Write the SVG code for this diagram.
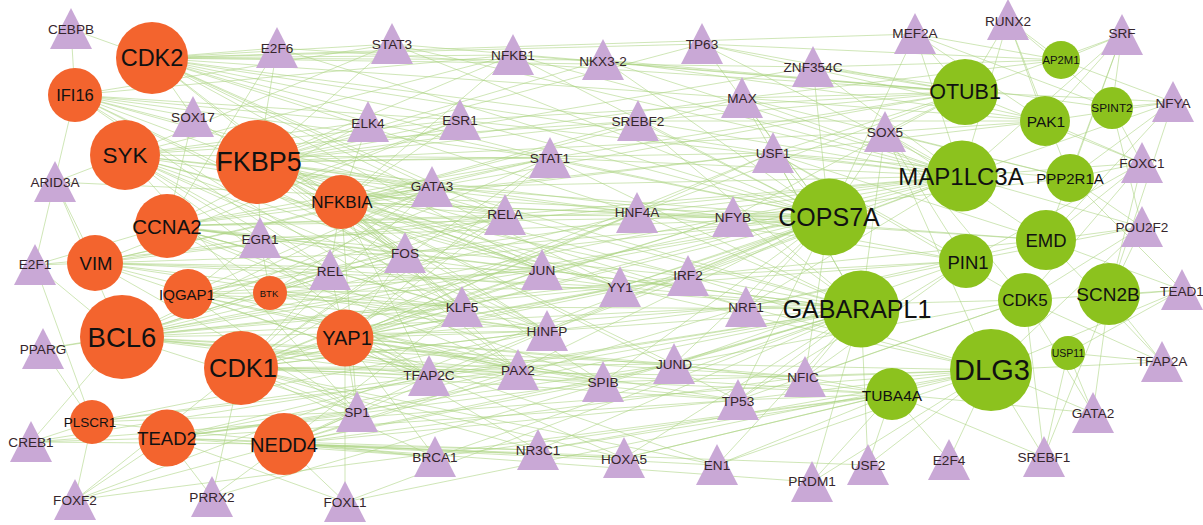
<svg xmlns="http://www.w3.org/2000/svg" xmlns:xlink="http://www.w3.org/1999/xlink" width="1203" height="525" viewBox="0 0 1203 525">
<style>
.e path{stroke:#acd482;stroke-width:0.8;stroke-opacity:0.72;fill:none}
.o{fill:#f3642e}
.g{fill:#8cc21e}
text{font-family:"Liberation Sans",Arial,sans-serif;text-anchor:middle;dominant-baseline:central}
.lt{font-size:13.6px;fill:#35252c}
.lc{fill:#111}
</style>
<defs>
<polygon id="tri" points="0,-21 -21,20 21,20" fill="#c9a8d6"/>
</defs>
<rect width="1203" height="525" fill="#fff"/>
<g id="connectors" class="e">
<!-- CDK2 -->
<path d="M152 58L71 29"/><path d="M152 58L277 48"/><path d="M152 58L392 44"/><path d="M152 58L513 55"/><path d="M152 58L603 60"/><path d="M152 58L702 44"/><path d="M152 58L460 120"/><path d="M152 58L550 158"/><path d="M152 58L638 121"/><path d="M152 58L432 187"/><path d="M152 58L505 215"/><path d="M152 58L637 213"/><path d="M152 58L542 270"/><path d="M152 58L620 287"/><path d="M152 58L368 122"/><path d="M152 58L742 98"/><path d="M152 58L773 153"/><path d="M152 58L193 117"/><path d="M152 58L405 253"/><path d="M152 58L462 307"/><path d="M152 58L915 34"/><path d="M152 58L813 67"/>
<!-- IFI16 -->
<path d="M75 95L71 29"/><path d="M75 95L392 44"/><path d="M75 95L368 122"/><path d="M75 95L460 120"/><path d="M75 95L432 187"/><path d="M75 95L505 215"/><path d="M75 95L542 270"/><path d="M75 95L405 253"/><path d="M75 95L330 270"/><path d="M75 95L550 158"/><path d="M75 95L547 331"/><path d="M75 95L35 265"/><path d="M75 95L193 117"/><path d="M75 95L518 370"/><path d="M75 95L513 55"/>
<!-- SYK -->
<path d="M125 155L392 44"/><path d="M125 155L368 122"/><path d="M125 155L460 120"/><path d="M125 155L550 158"/><path d="M125 155L432 187"/><path d="M125 155L505 215"/><path d="M125 155L405 253"/><path d="M125 155L330 270"/><path d="M125 155L542 270"/><path d="M125 155L462 307"/><path d="M125 155L547 331"/><path d="M125 155L429 376"/><path d="M125 155L357 412"/><path d="M125 155L260 238"/><path d="M125 155L513 55"/><path d="M125 155L638 121"/><path d="M125 155L55 182"/><path d="M125 155L637 213"/><path d="M125 155L620 287"/>
<!-- FKBP5 -->
<path d="M258 162L392 44"/><path d="M258 162L513 55"/><path d="M258 162L603 60"/><path d="M258 162L460 120"/><path d="M258 162L550 158"/><path d="M258 162L638 121"/><path d="M258 162L742 98"/><path d="M258 162L773 153"/><path d="M258 162L432 187"/><path d="M258 162L505 215"/><path d="M258 162L637 213"/><path d="M258 162L733 217"/><path d="M258 162L542 270"/><path d="M258 162L620 287"/><path d="M258 162L688 276"/><path d="M258 162L462 307"/><path d="M258 162L746 307"/><path d="M258 162L547 331"/><path d="M258 162L518 370"/><path d="M258 162L603 382"/><path d="M258 162L674 364"/><path d="M258 162L738 400"/><path d="M258 162L405 253"/><path d="M258 162L260 238"/><path d="M258 162L193 117"/><path d="M258 162L368 122"/><path d="M258 162L277 48"/><path d="M258 162L702 44"/><path d="M258 162L813 67"/><path d="M258 162L885 132"/>
<!-- NFKBIA -->
<path d="M341 202L460 120"/><path d="M341 202L550 158"/><path d="M341 202L638 121"/><path d="M341 202L432 187"/><path d="M341 202L505 215"/><path d="M341 202L637 213"/><path d="M341 202L733 217"/><path d="M341 202L542 270"/><path d="M341 202L620 287"/><path d="M341 202L330 270"/><path d="M341 202L405 253"/><path d="M341 202L462 307"/><path d="M341 202L547 331"/><path d="M341 202L429 376"/><path d="M341 202L518 370"/><path d="M341 202L357 412"/><path d="M341 202L513 55"/><path d="M341 202L742 98"/><path d="M341 202L368 122"/><path d="M341 202L688 276"/><path d="M341 202L746 307"/><path d="M341 202L773 153"/>
<!-- CCNA2 -->
<path d="M167 226L193 117"/><path d="M167 226L277 48"/><path d="M167 226L368 122"/><path d="M167 226L460 120"/><path d="M167 226L432 187"/><path d="M167 226L505 215"/><path d="M167 226L542 270"/><path d="M167 226L620 287"/><path d="M167 226L405 253"/><path d="M167 226L330 270"/><path d="M167 226L462 307"/><path d="M167 226L547 331"/><path d="M167 226L518 370"/><path d="M167 226L603 382"/><path d="M167 226L429 376"/><path d="M167 226L773 153"/><path d="M167 226L733 217"/><path d="M167 226L550 158"/><path d="M167 226L35 265"/><path d="M167 226L260 238"/><path d="M167 226L637 213"/><path d="M167 226L688 276"/>
<!-- VIM -->
<path d="M95 263L35 265"/><path d="M95 263L55 182"/><path d="M95 263L260 238"/><path d="M95 263L330 270"/><path d="M95 263L405 253"/><path d="M95 263L505 215"/><path d="M95 263L542 270"/><path d="M95 263L462 307"/><path d="M95 263L547 331"/><path d="M95 263L432 187"/><path d="M95 263L550 158"/><path d="M95 263L460 120"/><path d="M95 263L429 376"/><path d="M95 263L518 370"/><path d="M95 263L620 287"/><path d="M95 263L357 412"/>
<!-- IQGAP1 -->
<path d="M188 294L260 238"/><path d="M188 294L330 270"/><path d="M188 294L405 253"/><path d="M188 294L542 270"/><path d="M188 294L462 307"/><path d="M188 294L429 376"/><path d="M188 294L518 370"/><path d="M188 294L603 382"/><path d="M188 294L620 287"/><path d="M188 294L547 331"/><path d="M188 294L505 215"/><path d="M188 294L432 187"/><path d="M188 294L357 412"/>
<!-- BTK -->
<path d="M270 293L330 270"/><path d="M270 293L405 253"/><path d="M270 293L542 270"/><path d="M270 293L462 307"/><path d="M270 293L432 187"/><path d="M270 293L260 238"/><path d="M270 293L547 331"/>
<!-- BCL6 -->
<path d="M122 337L35 265"/><path d="M122 337L43 349"/><path d="M122 337L31 442"/><path d="M122 337L55 182"/><path d="M122 337L330 270"/><path d="M122 337L405 253"/><path d="M122 337L542 270"/><path d="M122 337L462 307"/><path d="M122 337L547 331"/><path d="M122 337L429 376"/><path d="M122 337L518 370"/><path d="M122 337L603 382"/><path d="M122 337L620 287"/><path d="M122 337L688 276"/><path d="M122 337L746 307"/><path d="M122 337L674 364"/><path d="M122 337L357 412"/><path d="M122 337L505 215"/><path d="M122 337L637 213"/><path d="M122 337L733 217"/><path d="M122 337L432 187"/><path d="M122 337L550 158"/><path d="M122 337L738 400"/><path d="M122 337L805 377"/>
<!-- CDK1 -->
<path d="M241 368L357 412"/><path d="M241 368L429 376"/><path d="M241 368L518 370"/><path d="M241 368L547 331"/><path d="M241 368L462 307"/><path d="M241 368L603 382"/><path d="M241 368L674 364"/><path d="M241 368L620 287"/><path d="M241 368L542 270"/><path d="M241 368L688 276"/><path d="M241 368L746 307"/><path d="M241 368L738 400"/><path d="M241 368L805 377"/><path d="M241 368L435 457"/><path d="M241 368L538 450"/><path d="M241 368L624 458"/><path d="M241 368L405 253"/><path d="M241 368L330 270"/><path d="M241 368L505 215"/><path d="M241 368L637 213"/><path d="M241 368L733 217"/><path d="M241 368L773 153"/><path d="M241 368L432 187"/><path d="M241 368L550 158"/><path d="M241 368L75 500"/><path d="M241 368L212 497"/><path d="M241 368L717 465"/>
<!-- YAP1 -->
<path d="M345 338L429 376"/><path d="M345 338L518 370"/><path d="M345 338L547 331"/><path d="M345 338L462 307"/><path d="M345 338L603 382"/><path d="M345 338L674 364"/><path d="M345 338L542 270"/><path d="M345 338L620 287"/><path d="M345 338L688 276"/><path d="M345 338L746 307"/><path d="M345 338L738 400"/><path d="M345 338L805 377"/><path d="M345 338L435 457"/><path d="M345 338L538 450"/><path d="M345 338L624 458"/><path d="M345 338L717 465"/><path d="M345 338L405 253"/><path d="M345 338L330 270"/><path d="M345 338L357 412"/><path d="M345 338L345 502"/><path d="M345 338L505 215"/><path d="M345 338L637 213"/><path d="M345 338L733 217"/><path d="M345 338L773 153"/><path d="M345 338L550 158"/>
<!-- PLSCR1 -->
<path d="M92 422L31 442"/><path d="M92 422L43 349"/><path d="M92 422L35 265"/><path d="M92 422L75 500"/><path d="M92 422L357 412"/><path d="M92 422L429 376"/><path d="M92 422L518 370"/><path d="M92 422L435 457"/><path d="M92 422L547 331"/>
<!-- TEAD2 -->
<path d="M167 438L357 412"/><path d="M167 438L429 376"/><path d="M167 438L518 370"/><path d="M167 438L435 457"/><path d="M167 438L538 450"/><path d="M167 438L624 458"/><path d="M167 438L345 502"/><path d="M167 438L212 497"/><path d="M167 438L75 500"/><path d="M167 438L31 442"/><path d="M167 438L603 382"/><path d="M167 438L674 364"/><path d="M167 438L738 400"/>
<!-- NEDD4 -->
<path d="M284 444L357 412"/><path d="M284 444L435 457"/><path d="M284 444L538 450"/><path d="M284 444L624 458"/><path d="M284 444L717 465"/><path d="M284 444L429 376"/><path d="M284 444L518 370"/><path d="M284 444L603 382"/><path d="M284 444L674 364"/><path d="M284 444L738 400"/><path d="M284 444L805 377"/><path d="M284 444L812 482"/><path d="M284 444L345 502"/><path d="M284 444L212 497"/><path d="M284 444L75 500"/><path d="M284 444L31 442"/><path d="M284 444L547 331"/><path d="M284 444L462 307"/><path d="M284 444L868 465"/><path d="M284 444L746 307"/>
<!-- COPS7A -->
<path d="M829 217L813 67"/><path d="M829 217L742 98"/><path d="M829 217L773 153"/><path d="M829 217L638 121"/><path d="M829 217L733 217"/><path d="M829 217L637 213"/><path d="M829 217L688 276"/><path d="M829 217L746 307"/><path d="M829 217L620 287"/><path d="M829 217L542 270"/><path d="M829 217L505 215"/><path d="M829 217L550 158"/><path d="M829 217L432 187"/><path d="M829 217L460 120"/><path d="M829 217L702 44"/><path d="M829 217L603 60"/><path d="M829 217L513 55"/><path d="M829 217L392 44"/><path d="M829 217L277 48"/><path d="M829 217L405 253"/><path d="M829 217L462 307"/><path d="M829 217L547 331"/><path d="M829 217L674 364"/><path d="M829 217L738 400"/><path d="M829 217L805 377"/><path d="M829 217L885 132"/><path d="M829 217L915 34"/><path d="M829 217L603 382"/><path d="M829 217L518 370"/><path d="M829 217L429 376"/><path d="M829 217L368 122"/><path d="M829 217L330 270"/><path d="M829 217L260 238"/>
<!-- OTUB1 -->
<path d="M965 92L915 34"/><path d="M965 92L1008 20"/><path d="M965 92L1122 35"/><path d="M965 92L813 67"/><path d="M965 92L885 132"/><path d="M965 92L742 98"/><path d="M965 92L773 153"/><path d="M965 92L702 44"/><path d="M965 92L638 121"/><path d="M965 92L603 60"/><path d="M965 92L513 55"/><path d="M965 92L392 44"/><path d="M965 92L733 217"/><path d="M965 92L637 213"/><path d="M965 92L550 158"/><path d="M965 92L460 120"/><path d="M965 92L432 187"/><path d="M965 92L277 48"/><path d="M965 92L1142 163"/><path d="M965 92L1173 102"/>
<!-- AP2M1 -->
<path d="M1061 60L1122 35"/><path d="M1061 60L1008 20"/><path d="M1061 60L915 34"/><path d="M1061 60L1173 102"/><path d="M1061 60L702 44"/><path d="M1061 60L742 98"/><path d="M1061 60L813 67"/>
<!-- PAK1 -->
<path d="M1045 121L1122 35"/><path d="M1045 121L1008 20"/><path d="M1045 121L915 34"/><path d="M1045 121L1173 102"/><path d="M1045 121L1142 163"/><path d="M1045 121L885 132"/><path d="M1045 121L773 153"/><path d="M1045 121L742 98"/><path d="M1045 121L702 44"/><path d="M1045 121L638 121"/><path d="M1045 121L603 60"/>
<!-- SPINT2 -->
<path d="M1112 108L1122 35"/><path d="M1112 108L1173 102"/><path d="M1112 108L1142 163"/><path d="M1112 108L1008 20"/><path d="M1112 108L1142 227"/><path d="M1112 108L915 34"/><path d="M1112 108L813 67"/>
<!-- MAP1LC3A -->
<path d="M962 176L915 34"/><path d="M962 176L813 67"/><path d="M962 176L885 132"/><path d="M962 176L742 98"/><path d="M962 176L773 153"/><path d="M962 176L638 121"/><path d="M962 176L733 217"/><path d="M962 176L637 213"/><path d="M962 176L550 158"/><path d="M962 176L460 120"/><path d="M962 176L432 187"/><path d="M962 176L505 215"/><path d="M962 176L542 270"/><path d="M962 176L620 287"/><path d="M962 176L688 276"/><path d="M962 176L746 307"/><path d="M962 176L1142 163"/><path d="M962 176L1122 35"/><path d="M962 176L1173 102"/><path d="M962 176L1142 227"/><path d="M962 176L702 44"/><path d="M962 176L603 60"/><path d="M962 176L513 55"/><path d="M962 176L392 44"/><path d="M962 176L1008 20"/><path d="M962 176L462 307"/><path d="M962 176L547 331"/><path d="M962 176L405 253"/>
<!-- PPP2R1A -->
<path d="M1070 178L1142 163"/><path d="M1070 178L1173 102"/><path d="M1070 178L1122 35"/><path d="M1070 178L1142 227"/><path d="M1070 178L885 132"/><path d="M1070 178L773 153"/><path d="M1070 178L742 98"/><path d="M1070 178L733 217"/><path d="M1070 178L1182 290"/><path d="M1070 178L1008 20"/>
<!-- EMD -->
<path d="M1046 240L1142 163"/><path d="M1046 240L1142 227"/><path d="M1046 240L1182 290"/><path d="M1046 240L1173 102"/><path d="M1046 240L1122 35"/><path d="M1046 240L885 132"/><path d="M1046 240L773 153"/><path d="M1046 240L733 217"/><path d="M1046 240L688 276"/><path d="M1046 240L746 307"/><path d="M1046 240L637 213"/><path d="M1046 240L1162 362"/>
<!-- PIN1 -->
<path d="M966 261L885 132"/><path d="M966 261L773 153"/><path d="M966 261L733 217"/><path d="M966 261L746 307"/><path d="M966 261L688 276"/><path d="M966 261L738 400"/><path d="M966 261L674 364"/><path d="M966 261L805 377"/><path d="M966 261L1142 227"/><path d="M966 261L1142 163"/><path d="M966 261L637 213"/><path d="M966 261L620 287"/>
<!-- GABARAPL1 -->
<path d="M861 309L805 377"/><path d="M861 309L738 400"/><path d="M861 309L674 364"/><path d="M861 309L746 307"/><path d="M861 309L688 276"/><path d="M861 309L620 287"/><path d="M861 309L542 270"/><path d="M861 309L603 382"/><path d="M861 309L547 331"/><path d="M861 309L518 370"/><path d="M861 309L462 307"/><path d="M861 309L429 376"/><path d="M861 309L637 213"/><path d="M861 309L505 215"/><path d="M861 309L733 217"/><path d="M861 309L773 153"/><path d="M861 309L550 158"/><path d="M861 309L717 465"/><path d="M861 309L624 458"/><path d="M861 309L538 450"/><path d="M861 309L812 482"/><path d="M861 309L868 465"/><path d="M861 309L885 132"/><path d="M861 309L742 98"/><path d="M861 309L432 187"/><path d="M861 309L405 253"/><path d="M861 309L435 457"/><path d="M861 309L638 121"/><path d="M861 309L330 270"/><path d="M861 309L357 412"/>
<!-- CDK5 -->
<path d="M1025 300L1182 290"/><path d="M1025 300L1142 227"/><path d="M1025 300L1142 163"/><path d="M1025 300L1162 362"/><path d="M1025 300L1093 413"/><path d="M1025 300L746 307"/><path d="M1025 300L805 377"/><path d="M1025 300L738 400"/><path d="M1025 300L674 364"/><path d="M1025 300L885 132"/><path d="M1025 300L773 153"/><path d="M1025 300L1044 457"/>
<!-- SCN2B -->
<path d="M1109 296L1182 290"/><path d="M1109 296L1162 362"/><path d="M1109 296L1142 227"/><path d="M1109 296L1142 163"/><path d="M1109 296L1093 413"/><path d="M1109 296L1173 102"/><path d="M1109 296L1044 457"/>
<!-- USP11 -->
<path d="M1068 353L1162 362"/><path d="M1068 353L1093 413"/><path d="M1068 353L1044 457"/><path d="M1068 353L1182 290"/>
<!-- DLG3 -->
<path d="M991 370L1093 413"/><path d="M991 370L1044 457"/><path d="M991 370L949 460"/><path d="M991 370L868 465"/><path d="M991 370L812 482"/><path d="M991 370L1162 362"/><path d="M991 370L805 377"/><path d="M991 370L738 400"/><path d="M991 370L674 364"/><path d="M991 370L746 307"/><path d="M991 370L688 276"/><path d="M991 370L717 465"/><path d="M991 370L624 458"/><path d="M991 370L603 382"/><path d="M991 370L620 287"/><path d="M991 370L538 450"/><path d="M991 370L1142 227"/><path d="M991 370L1182 290"/><path d="M991 370L885 132"/>
<!-- TUBA4A -->
<path d="M892 394L868 465"/><path d="M892 394L949 460"/><path d="M892 394L812 482"/><path d="M892 394L717 465"/><path d="M892 394L624 458"/><path d="M892 394L805 377"/><path d="M892 394L738 400"/><path d="M892 394L674 364"/><path d="M892 394L603 382"/><path d="M892 394L538 450"/><path d="M892 394L435 457"/><path d="M892 394L1093 413"/><path d="M892 394L1044 457"/><path d="M892 394L518 370"/>
<!-- long cross links -->
<path d="M31 442L861 309"/><path d="M31 442L991 370"/><path d="M75 500L829 217"/><path d="M75 500L892 394"/><path d="M43 349L829 217"/><path d="M345 502L861 309"/><path d="M345 502L991 370"/><path d="M212 497L861 309"/><path d="M35 265L962 176"/><path d="M55 182L829 217"/>
</g>
<!-- triangle nodes -->
<g id="n-CEBPB"><use href="#tri" x="71" y="29"/><text class="lt" x="71" y="29">CEBPB</text></g>
<g id="n-E2F6"><use href="#tri" x="277" y="48"/><text class="lt" x="277" y="48">E2F6</text></g>
<g id="n-STAT3"><use href="#tri" x="392" y="44"/><text class="lt" x="392" y="44">STAT3</text></g>
<g id="n-NFKB1"><use href="#tri" x="513" y="55"/><text class="lt" x="513" y="55">NFKB1</text></g>
<g id="n-NKX3-2"><use href="#tri" x="603" y="60"/><text class="lt" x="603" y="61">NKX3-2</text></g>
<g id="n-TP63"><use href="#tri" x="702" y="44"/><text class="lt" x="702" y="44">TP63</text></g>
<g id="n-ZNF354C"><use href="#tri" x="813" y="67"/><text class="lt" x="813" y="67">ZNF354C</text></g>
<g id="n-MEF2A"><use href="#tri" x="915" y="34"/><text class="lt" x="915" y="33">MEF2A</text></g>
<g id="n-RUNX2"><use href="#tri" x="1008" y="20"/><text class="lt" x="1008" y="21">RUNX2</text></g>
<g id="n-SRF"><use href="#tri" x="1122" y="35"/><text class="lt" x="1122" y="33">SRF</text></g>
<g id="n-NFYA"><use href="#tri" x="1173" y="102"/><text class="lt" x="1173" y="103">NFYA</text></g>
<g id="n-SOX5"><use href="#tri" x="885" y="132"/><text class="lt" x="885" y="132">SOX5</text></g>
<g id="n-FOXC1"><use href="#tri" x="1142" y="163"/><text class="lt" x="1142" y="163">FOXC1</text></g>
<g id="n-POU2F2"><use href="#tri" x="1142" y="227"/><text class="lt" x="1142" y="227">POU2F2</text></g>
<g id="n-TEAD1"><use href="#tri" x="1182" y="290"/><text class="lt" x="1182" y="291">TEAD1</text></g>
<g id="n-TFAP2A"><use href="#tri" x="1162" y="362"/><text class="lt" x="1162" y="361">TFAP2A</text></g>
<g id="n-GATA2"><use href="#tri" x="1093" y="413"/><text class="lt" x="1093" y="413">GATA2</text></g>
<g id="n-SREBF1"><use href="#tri" x="1044" y="457"/><text class="lt" x="1044" y="457">SREBF1</text></g>
<g id="n-E2F4"><use href="#tri" x="949" y="460"/><text class="lt" x="949" y="460">E2F4</text></g>
<g id="n-USF2"><use href="#tri" x="868" y="465"/><text class="lt" x="868" y="465">USF2</text></g>
<g id="n-PRDM1"><use href="#tri" x="812" y="482"/><text class="lt" x="812" y="481">PRDM1</text></g>
<g id="n-EN1"><use href="#tri" x="717" y="465"/><text class="lt" x="717" y="465">EN1</text></g>
<g id="n-HOXA5"><use href="#tri" x="624" y="458"/><text class="lt" x="624" y="459">HOXA5</text></g>
<g id="n-NR3C1"><use href="#tri" x="538" y="450"/><text class="lt" x="538" y="450">NR3C1</text></g>
<g id="n-BRCA1"><use href="#tri" x="435" y="457"/><text class="lt" x="435" y="457">BRCA1</text></g>
<g id="n-FOXL1"><use href="#tri" x="345" y="502"/><text class="lt" x="345" y="502">FOXL1</text></g>
<g id="n-PRRX2"><use href="#tri" x="212" y="497"/><text class="lt" x="212" y="497">PRRX2</text></g>
<g id="n-FOXF2"><use href="#tri" x="75" y="500"/><text class="lt" x="75" y="500">FOXF2</text></g>
<g id="n-CREB1"><use href="#tri" x="31" y="442"/><text class="lt" x="31" y="442">CREB1</text></g>
<g id="n-SP1"><use href="#tri" x="357" y="412"/><text class="lt" x="357" y="412">SP1</text></g>
<g id="n-PPARG"><use href="#tri" x="43" y="349"/><text class="lt" x="43" y="349">PPARG</text></g>
<g id="n-E2F1"><use href="#tri" x="35" y="265"/><text class="lt" x="35" y="264">E2F1</text></g>
<g id="n-ARID3A"><use href="#tri" x="55" y="182"/><text class="lt" x="55" y="182">ARID3A</text></g>
<g id="n-SOX17"><use href="#tri" x="193" y="117"/><text class="lt" x="193" y="117">SOX17</text></g>
<g id="n-ELK4"><use href="#tri" x="368" y="122"/><text class="lt" x="368" y="123">ELK4</text></g>
<g id="n-EGR1"><use href="#tri" x="260" y="238"/><text class="lt" x="260" y="239">EGR1</text></g>
<g id="n-REL"><use href="#tri" x="330" y="270"/><text class="lt" x="330" y="271">REL</text></g>
<g id="n-FOS"><use href="#tri" x="405" y="253"/><text class="lt" x="405" y="253">FOS</text></g>
<g id="n-GATA3"><use href="#tri" x="432" y="187"/><text class="lt" x="432" y="186">GATA3</text></g>
<g id="n-ESR1"><use href="#tri" x="460" y="120"/><text class="lt" x="460" y="120">ESR1</text></g>
<g id="n-STAT1"><use href="#tri" x="550" y="158"/><text class="lt" x="550" y="158">STAT1</text></g>
<g id="n-SREBF2"><use href="#tri" x="638" y="121"/><text class="lt" x="638" y="121">SREBF2</text></g>
<g id="n-MAX"><use href="#tri" x="742" y="98"/><text class="lt" x="742" y="98">MAX</text></g>
<g id="n-USF1"><use href="#tri" x="773" y="153"/><text class="lt" x="773" y="153">USF1</text></g>
<g id="n-RELA"><use href="#tri" x="505" y="215"/><text class="lt" x="505" y="214">RELA</text></g>
<g id="n-HNF4A"><use href="#tri" x="637" y="213"/><text class="lt" x="637" y="212">HNF4A</text></g>
<g id="n-NFYB"><use href="#tri" x="733" y="217"/><text class="lt" x="733" y="217">NFYB</text></g>
<g id="n-JUN"><use href="#tri" x="542" y="270"/><text class="lt" x="542" y="270">JUN</text></g>
<g id="n-YY1"><use href="#tri" x="620" y="287"/><text class="lt" x="620" y="287">YY1</text></g>
<g id="n-IRF2"><use href="#tri" x="688" y="276"/><text class="lt" x="688" y="275">IRF2</text></g>
<g id="n-KLF5"><use href="#tri" x="462" y="307"/><text class="lt" x="462" y="307">KLF5</text></g>
<g id="n-NRF1"><use href="#tri" x="746" y="307"/><text class="lt" x="746" y="307">NRF1</text></g>
<g id="n-HINFP"><use href="#tri" x="547" y="331"/><text class="lt" x="547" y="331">HINFP</text></g>
<g id="n-TFAP2C"><use href="#tri" x="429" y="376"/><text class="lt" x="429" y="375">TFAP2C</text></g>
<g id="n-PAX2"><use href="#tri" x="518" y="370"/><text class="lt" x="518" y="370">PAX2</text></g>
<g id="n-SPIB"><use href="#tri" x="603" y="382"/><text class="lt" x="603" y="382">SPIB</text></g>
<g id="n-JUND"><use href="#tri" x="674" y="364"/><text class="lt" x="674" y="364">JUND</text></g>
<g id="n-TP53"><use href="#tri" x="738" y="400"/><text class="lt" x="738" y="401">TP53</text></g>
<g id="n-NFIC"><use href="#tri" x="805" y="377"/><text class="lt" x="803" y="377">NFIC</text></g>
<!-- orange circle nodes -->
<g id="n-CDK2"><circle class="o" cx="152" cy="58" r="36"/><text class="lc" x="152" y="58" font-size="23.5">CDK2</text></g>
<g id="n-IFI16"><circle class="o" cx="75" cy="95" r="27"/><text class="lc" x="75" y="95" font-size="16.5">IFI16</text></g>
<g id="n-SYK"><circle class="o" cx="125" cy="155" r="35"/><text class="lc" x="125" y="155" font-size="22.5">SYK</text></g>
<g id="n-FKBP5"><circle class="o" cx="258" cy="162" r="42"/><text class="lc" x="259" y="162" font-size="27">FKBP5</text></g>
<g id="n-NFKBIA"><circle class="o" cx="341" cy="202" r="27"/><text class="lc" x="342" y="202" font-size="17">NFKBIA</text></g>
<g id="n-CCNA2"><circle class="o" cx="167" cy="226" r="32"/><text class="lc" x="167" y="226" font-size="20.5">CCNA2</text></g>
<g id="n-VIM"><circle class="o" cx="95" cy="263" r="28"/><text class="lc" x="96" y="263" font-size="18.5">VIM</text></g>
<g id="n-IQGAP1"><circle class="o" cx="188" cy="294" r="25"/><text class="lc" x="187" y="294" font-size="15">IQGAP1</text></g>
<g id="n-BTK"><circle class="o" cx="270" cy="293" r="17"/><text class="lc" x="269" y="293" font-size="9.5">BTK</text></g>
<g id="n-BCL6"><circle class="o" cx="122" cy="337" r="42"/><text class="lc" x="122" y="337" font-size="27.5">BCL6</text></g>
<g id="n-CDK1"><circle class="o" cx="241" cy="368" r="37"/><text class="lc" x="243" y="368" font-size="25.5">CDK1</text></g>
<g id="n-YAP1"><circle class="o" cx="345" cy="338" r="28.5"/><text class="lc" x="347" y="338" font-size="20">YAP1</text></g>
<g id="n-PLSCR1"><circle class="o" cx="92" cy="422" r="22"/><text class="lc" x="90" y="422" font-size="13.5">PLSCR1</text></g>
<g id="n-TEAD2"><circle class="o" cx="167" cy="438" r="28.5"/><text class="lc" x="167" y="438" font-size="18.5">TEAD2</text></g>
<g id="n-NEDD4"><circle class="o" cx="284" cy="444" r="31"/><text class="lc" x="284" y="445" font-size="20">NEDD4</text></g>
<!-- green circle nodes -->
<g id="n-COPS7A"><circle class="g" cx="829" cy="217" r="38.5"/><text class="lc" x="829" y="217" font-size="25">COPS7A</text></g>
<g id="n-OTUB1"><circle class="g" cx="965" cy="92" r="33"/><text class="lc" x="965" y="92" font-size="21.5">OTUB1</text></g>
<g id="n-AP2M1"><circle class="g" cx="1061" cy="60" r="19"/><text class="lc" x="1061" y="60" font-size="11.3">AP2M1</text></g>
<g id="n-PAK1"><circle class="g" cx="1045" cy="121" r="25"/><text class="lc" x="1046" y="121" font-size="15.5">PAK1</text></g>
<g id="n-SPINT2"><circle class="g" cx="1112" cy="108" r="21"/><text class="lc" x="1112" y="108" font-size="11.8">SPINT2</text></g>
<g id="n-MAP1LC3A"><circle class="g" cx="962" cy="176" r="35.5"/><text class="lc" x="961" y="176" font-size="24">MAP1LC3A</text></g>
<g id="n-PPP2R1A"><circle class="g" cx="1070" cy="178" r="24"/><text class="lc" x="1070" y="178" font-size="15">PPP2R1A</text></g>
<g id="n-EMD"><circle class="g" cx="1046" cy="240" r="30"/><text class="lc" x="1046" y="240" font-size="18.5">EMD</text></g>
<g id="n-PIN1"><circle class="g" cx="966" cy="261" r="27"/><text class="lc" x="968" y="262" font-size="18.5">PIN1</text></g>
<g id="n-GABARAPL1"><circle class="g" cx="861" cy="309" r="38.5"/><text class="lc" x="857" y="309" font-size="25">GABARAPL1</text></g>
<g id="n-CDK5"><circle class="g" cx="1025" cy="300" r="27"/><text class="lc" x="1025" y="300" font-size="17">CDK5</text></g>
<g id="n-SCN2B"><circle class="g" cx="1109" cy="294" r="31"/><text class="lc" x="1108" y="294" font-size="19">SCN2B</text></g>
<g id="n-USP11"><circle class="g" cx="1068" cy="353" r="17"/><text class="lc" x="1068" y="353" font-size="10.5">USP11</text></g>
<g id="n-DLG3"><circle class="g" cx="991" cy="370" r="41"/><text class="lc" x="992" y="370" font-size="29">DLG3</text></g>
<g id="n-TUBA4A"><circle class="g" cx="892" cy="394" r="26"/><text class="lc" x="892" y="395" font-size="15.5">TUBA4A</text></g>
</svg>
